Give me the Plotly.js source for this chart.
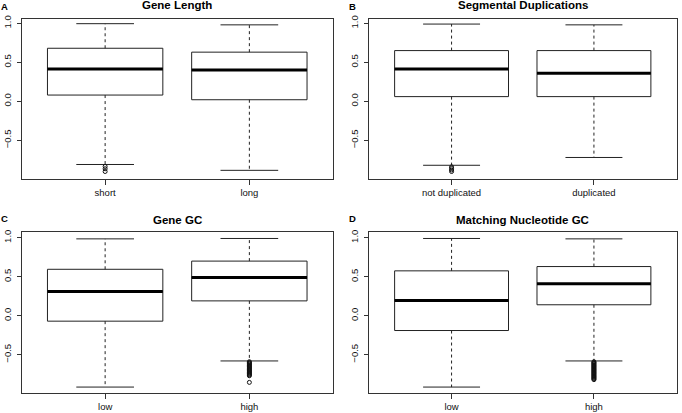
<!DOCTYPE html>
<html>
<head>
<meta charset="utf-8">
<script src="https://cdn.plot.ly/plotly-3.0.1.min.js"></script>
<style>html,body{margin:0;padding:0;background:#fff;}#chart{width:682px;height:413px;}</style>
</head>
<body>
<div id="chart"></div>
<script>
// ---- Data ----
var panelTitles = ["Gene Length", "Segmental Duplications", "Gene GC", "Matching Nucleotide GC"];
var panelLetters = ["A", "B", "C", "D"];

var catsA = ["short", "long"];
var lowA = [-0.81, -0.885];
var q1A = [0.08, 0.02];
var medA = [0.415, 0.40];
var q3A = [0.68, 0.63];
var highA = [0.995, 0.98];
var outA = [[-0.835, -0.865, -0.90], []];

var catsB = ["not duplicated", "duplicated"];
var lowB = [-0.82, -0.72];
var q1B = [0.06, 0.06];
var medB = [0.415, 0.36];
var q3B = [0.65, 0.65];
var highB = [0.99, 0.98];
var outB = [[-0.84, -0.86, -0.88, -0.90], []];

var catsC = ["low", "high"];
var lowC = [-0.915, -0.58];
var q1C = [-0.07, 0.19];
var medC = [0.31, 0.49];
var q3C = [0.595, 0.70];
var highC = [0.985, 0.99];
var outC = [[], [-0.59, -0.60, -0.61, -0.62, -0.63, -0.64, -0.65, -0.66, -0.67, -0.68, -0.69, -0.70, -0.71, -0.72, -0.73, -0.74, -0.75, -0.76, -0.77, -0.855]];

var catsD = ["low", "high"];
var lowD = [-0.915, -0.58];
var q1D = [-0.19, 0.14];
var medD = [0.195, 0.41];
var q3D = [0.575, 0.63];
var highD = [0.99, 0.985];
var outD = [[], [-0.59, -0.60, -0.61, -0.62, -0.63, -0.64, -0.65, -0.66, -0.67, -0.68, -0.69, -0.70, -0.71, -0.72, -0.73, -0.74, -0.75, -0.76, -0.77, -0.78, -0.79, -0.80, -0.81, -0.82]];

// ---- Build traces ----
var FONT = "Liberation Sans, Arial, Helvetica, sans-serif";
var LC = "#222";
var panels = [
  {cats: catsA, lo: lowA, q1: q1A, med: medA, q3: q3A, hi: highA, out: outA, xa: "x", ya: "y"},
  {cats: catsB, lo: lowB, q1: q1B, med: medB, q3: q3B, hi: highB, out: outB, xa: "x2", ya: "y2"},
  {cats: catsC, lo: lowC, q1: q1C, med: medC, q3: q3C, hi: highC, out: outC, xa: "x3", ya: "y3"},
  {cats: catsD, lo: lowD, q1: q1D, med: medD, q3: q3D, hi: highD, out: outD, xa: "x4", ya: "y4"}
];
var BOXW = 0.8, CAPW = 0.4;
var traces = [];
panels.forEach(function (p) {
  var pos = p.cats.map(function (c, i) { return i; });
  // box body
  traces.push({
    type: "box", x: pos, q1: p.q1, median: p.med, q3: p.q3,
    lowerfence: p.q1, upperfence: p.q3,
    width: BOXW, whiskerwidth: 0, boxpoints: false,
    line: {color: LC, width: 1}, fillcolor: "rgba(255,255,255,0)",
    xaxis: p.xa, yaxis: p.ya, showlegend: false, hoverinfo: "skip"
  });
  var wx = [], wy = [], cx = [], cy = [], mx = [], my = [], ox = [], oy = [];
  pos.forEach(function (i) {
    wx.push(i, i, null, i, i, null);
    wy.push(p.q3[i], p.hi[i], null, p.q1[i], p.lo[i], null);
    cx.push(i - CAPW / 2, i + CAPW / 2, null, i - CAPW / 2, i + CAPW / 2, null);
    cy.push(p.hi[i], p.hi[i], null, p.lo[i], p.lo[i], null);
    mx.push(i - BOXW / 2, i + BOXW / 2, null);
    my.push(p.med[i], p.med[i], null);
    p.out[i].forEach(function (v) { ox.push(i); oy.push(v); });
  });
  // dashed whiskers
  traces.push({type: "scatter", mode: "lines", x: wx, y: wy, line: {color: LC, width: 1, dash: "3px,3px"},
    xaxis: p.xa, yaxis: p.ya, showlegend: false, hoverinfo: "skip", connectgaps: false});
  // whisker caps
  traces.push({type: "scatter", mode: "lines", x: cx, y: cy, line: {color: LC, width: 1},
    xaxis: p.xa, yaxis: p.ya, showlegend: false, hoverinfo: "skip", connectgaps: false});
  // thick median
  traces.push({type: "scatter", mode: "lines", x: mx, y: my, line: {color: "#000", width: 3},
    xaxis: p.xa, yaxis: p.ya, showlegend: false, hoverinfo: "skip", connectgaps: false});
  // outliers
  if (ox.length) {
    traces.push({type: "scatter", mode: "markers", x: ox, y: oy,
      marker: {symbol: "circle-open", size: 4, color: "#111", line: {width: 1, color: "#111"}},
      xaxis: p.xa, yaxis: p.ya, showlegend: false, hoverinfo: "skip"});
  }
});

// ---- Layout ----
var W = 682, H = 413;
var xDomL = [21.5 / W, 333 / W], xDomR = [369 / W, 676.5 / W];
var yDomT = [1 - 179 / H, 1 - 19 / H], yDomB = [1 - 393 / H, 1 - 232 / H];
var tickFont = {family: FONT, size: 9.5, color: "#111"};
function xax(dom, anchor, cats) {
  return {domain: dom, anchor: anchor, range: [-0.58, 1.58], tickvals: cats.map(function (c, i) { return i; }),
    ticktext: cats, ticks: "outside", ticklen: 5, tickcolor: "#333", tickwidth: 1,
    showline: true, linecolor: "#333", linewidth: 1, mirror: true, showgrid: false, zeroline: false,
    tickfont: tickFont, fixedrange: true};
}
var yTickVals = [-0.5, 0.0, 0.5, 1.0];
var yTickText = ["\u22120.5", "0.0", "0.5", "1.0"];
function yax(dom, anchor, range) {
  return {domain: dom, anchor: anchor, range: range, tickvals: yTickVals, ticktext: yTickText,
    ticks: "outside", ticklen: 4, tickcolor: "#333", tickwidth: 1, tickangle: -90, ticklabelstandoff: 2,
    showline: true, linecolor: "#333", linewidth: 1, mirror: true, showgrid: false, zeroline: false,
    tickfont: tickFont, fixedrange: true};
}
var titleFont = {family: FONT, size: 11.5, color: "#000", weight: "bold"};
var letterFont = {family: FONT, size: 9.5, color: "#000", weight: "bold"};
var titleCX = [(xDomL[0] + xDomL[1]) / 2, (xDomR[0] + xDomR[1]) / 2];
var titleY = [1 - 5 / H, 1 - 220 / H];
var letterY = [1 - 6 / H, 1 - 218.5 / H];
var letterX = [4.5 / W, 352 / W];
var annotations = [];
for (var k = 0; k < 4; k++) {
  var col = k % 2, row = Math.floor(k / 2);
  annotations.push({text: panelTitles[k], xref: "paper", yref: "paper", x: titleCX[col], y: titleY[row],
    xanchor: "center", yanchor: "middle", showarrow: false, font: titleFont});
  annotations.push({text: panelLetters[k], xref: "paper", yref: "paper", x: letterX[col], y: letterY[row],
    xanchor: "center", yanchor: "middle", showarrow: false, font: letterFont});
}

var layout = {
  width: W, height: H, margin: {l: 0, r: 0, t: 0, b: 0},
  paper_bgcolor: "#fff", plot_bgcolor: "#fff", showlegend: false,
  font: {family: FONT, color: "#000"},
  xaxis: xax(xDomL, "y", catsA), yaxis: yax(yDomT, "x", [-0.996, 1.055]),
  xaxis2: xax(xDomR, "y2", catsB), yaxis2: yax(yDomT, "x2", [-0.996, 1.055]),
  xaxis3: xax(xDomL, "y3", catsC), yaxis3: yax(yDomB, "x3", [-0.991, 1.073]),
  xaxis4: xax(xDomR, "y4", catsD), yaxis4: yax(yDomB, "x4", [-0.991, 1.073]),
  annotations: annotations
};

Plotly.newPlot("chart", traces, layout, {staticPlot: true, displayModeBar: false});
</script>
</body>
</html>
